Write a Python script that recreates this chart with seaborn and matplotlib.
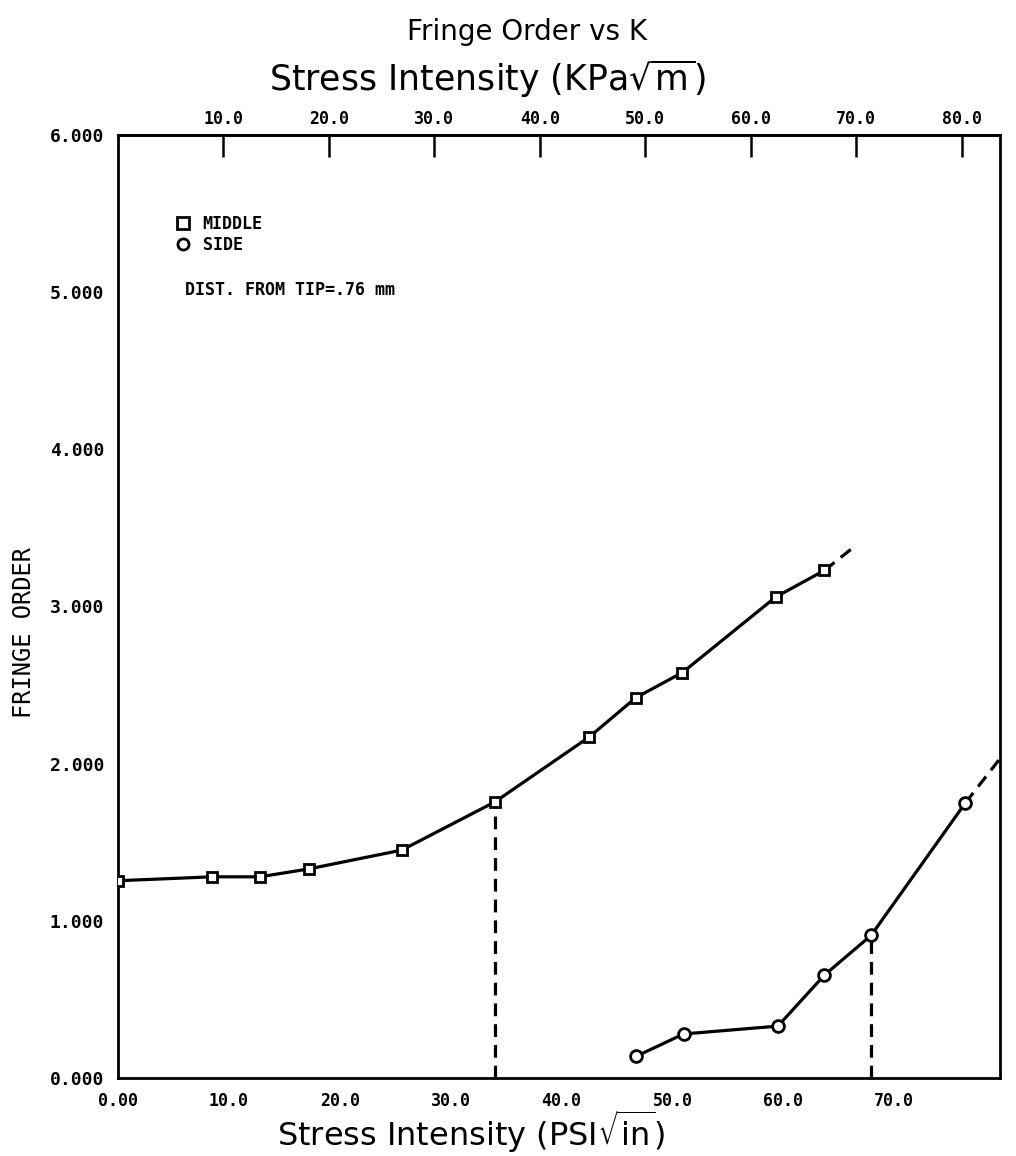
import matplotlib
matplotlib.use("Agg")
import matplotlib.pyplot as plt
from matplotlib.lines import Line2D
from matplotlib.font_manager import FontProperties
import seaborn as sns
import pandas as pd

# Fringe order against stress intensity K (PSI*sqrt(in)), measured 0.76 mm from the crack tip
middle_k = [0.0, 8.5, 12.8, 17.2, 25.6, 34.0, 42.5, 46.7, 50.9, 59.3, 63.7]
middle_n = [1.255, 1.28, 1.28, 1.33, 1.45, 1.757, 2.17, 2.42, 2.58, 3.06, 3.23]
middle_ext_k = [63.7, 66.2]
middle_ext_n = [3.23, 3.37]

side_k = [46.7, 51.0, 59.5, 63.7, 67.9, 76.4]
side_n = [0.137, 0.28, 0.33, 0.655, 0.907, 1.75]
side_ext_k = [76.4, 79.5]
side_ext_n = [1.75, 2.03]

bottom_ticks = [0, 10, 20, 30, 40, 50, 60, 70]
bottom_tick_labels = ["0.00", "10.0", "20.0", "30.0", "40.0", "50.0", "60.0", "70.0"]
top_ticks = [10, 20, 30, 40, 50, 60, 70, 80]
top_tick_labels = ["10.0", "20.0", "30.0", "40.0", "50.0", "60.0", "70.0", "80.0"]
y_ticks = [0, 1, 2, 3, 4, 5, 6]
y_tick_labels = ["0.000", "1.000", "2.000", "3.000", "4.000", "5.000", "6.000"]

PSI_PER_KPA = 0.951

sns.set_theme(style="white")
plt.rcParams["font.family"] = ["DejaVu Sans"]
plt.rcParams["mathtext.fontset"] = "dejavusans"
plt.rcParams["text.color"] = "black"
plt.rcParams["axes.labelcolor"] = "black"
plt.rcParams["xtick.color"] = "black"
plt.rcParams["ytick.color"] = "black"

MONO = "DejaVu Sans Mono"
INK = "black"
LW = 2.3
DASH = (0, (4, 2.5))

fig = plt.figure(figsize=(10.16, 11.56), dpi=100)
ax = fig.add_axes([0.116, 0.0675, 0.868, 0.8157])

mid = pd.DataFrame({"k": middle_k, "n": middle_n})
side = pd.DataFrame({"k": side_k, "n": side_n})

sns.lineplot(data=mid, x="k", y="n", ax=ax, color=INK, lw=LW, marker="s",
             markersize=7.5, markerfacecolor="white", markeredgecolor=INK,
             markeredgewidth=2, sort=False, estimator=None, zorder=4)
sns.lineplot(data=side, x="k", y="n", ax=ax, color=INK, lw=LW, marker="o",
             markersize=8.5, markerfacecolor="white", markeredgecolor=INK,
             markeredgewidth=2, sort=False, estimator=None, zorder=4)

# extrapolated trends
ax.plot(middle_ext_k, middle_ext_n, color=INK, lw=LW, ls=DASH, zorder=3)
ax.plot(side_ext_k, side_ext_n, color=INK, lw=LW, ls=DASH, zorder=3, clip_on=False)

# drop lines from the points where each curve changes slope
ax.plot([middle_k[5], middle_k[5]], [0, middle_n[5]], color=INK, lw=LW, ls=DASH, zorder=2)
ax.plot([side_k[4], side_k[4]], [0, side_n[4]], color=INK, lw=LW, ls=DASH, zorder=2)

ax.set_xlim(0, 79.5)
ax.set_ylim(0, 6)
ax.set_xlabel("")
ax.set_ylabel("")

ax.set_xticks(bottom_ticks)
ax.set_xticklabels(bottom_tick_labels, fontfamily=MONO, fontweight="bold", fontsize=12)
ax.set_yticks(y_ticks)
ax.set_yticklabels(y_tick_labels, fontfamily=MONO, fontweight="bold", fontsize=13)
ax.tick_params(axis="x", direction="in", length=7, width=1.8, pad=10, colors=INK)
ax.tick_params(axis="y", direction="in", length=9, width=1.8, pad=10, colors=INK)
for sp in ax.spines.values():
    sp.set_visible(True)
    sp.set_color(INK)
    sp.set_linewidth(2.0)

secax = ax.secondary_xaxis("top", functions=(lambda x: x / PSI_PER_KPA,
                                             lambda k: k * PSI_PER_KPA))
secax.set_xticks(top_ticks)
secax.set_xticklabels(top_tick_labels, fontfamily=MONO, fontweight="bold", fontsize=12)
secax.tick_params(direction="in", length=16, width=1.8, pad=5, colors=INK)
secax.spines["top"].set_linewidth(2.0)

legend_font = FontProperties(family=MONO, weight="bold", size=12)
handles = [
    Line2D([], [], ls="none", marker="s", markersize=8, markerfacecolor="white",
           markeredgecolor=INK, markeredgewidth=2),
    Line2D([], [], ls="none", marker="o", markersize=8, markerfacecolor="white",
           markeredgecolor=INK, markeredgewidth=2),
]
ax.legend(handles, ["MIDDLE", "SIDE"], loc="upper left", bbox_to_anchor=(0.066, 0.915),
          frameon=False, prop=legend_font, handlelength=0.8, handletextpad=0.8,
          labelspacing=0.15, borderpad=0, borderaxespad=0)
ax.text(0.076, 0.836, "DIST. FROM TIP=.76 mm", transform=ax.transAxes,
        fontfamily=MONO, fontweight="bold", fontsize=12, va="center", ha="left")

fig.text(24 / 1016, 1 - 633 / 1156, "FRINGE ORDER", rotation=90, ha="center", va="center",
         fontfamily=MONO, fontsize=17)
fig.text(471 / 1016, 1 - 1146 / 1156, r"Stress Intensity (PSI$\sqrt{\mathrm{in}}$)",
         ha="center", va="baseline", fontsize=23)
fig.text(487 / 1016, 1 - 79 / 1156, r"Stress Intensity (KPa$\sqrt{\mathrm{m}}$)",
         ha="center", va="center", fontsize=25)
fig.text(527 / 1016, 1 - 32 / 1156, "Fringe Order vs K",
         ha="center", va="center", fontsize=20)

fig.savefig("out.png", dpi=100, facecolor="white")
